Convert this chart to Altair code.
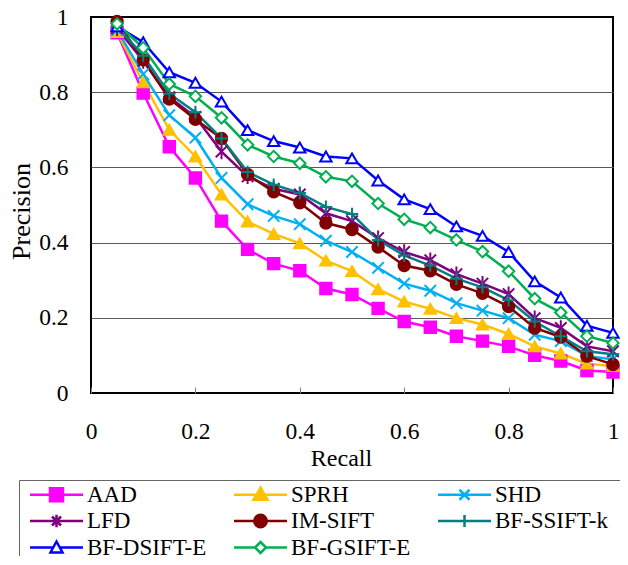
import altair as alt
import pandas as pd

recall = [0.05, 0.10, 0.15, 0.20, 0.25, 0.30, 0.35, 0.40, 0.45, 0.50,
          0.55, 0.60, 0.65, 0.70, 0.75, 0.80, 0.85, 0.90, 0.95, 1.00]

series = ["AAD", "SPRH", "SHD", "LFD", "IM-SIFT", "BF-SSIFT-k", "BF-DSIFT-E", "BF-GSIFT-E"]

aad = [0.958, 0.798, 0.655, 0.572, 0.457, 0.382, 0.344, 0.325, 0.278, 0.262,
       0.225, 0.190, 0.175, 0.151, 0.138, 0.124, 0.100, 0.085, 0.060, 0.056]
sprh = [0.960, 0.826, 0.700, 0.629, 0.528, 0.456, 0.423, 0.398, 0.352, 0.324,
        0.276, 0.243, 0.224, 0.199, 0.182, 0.157, 0.124, 0.105, 0.078, 0.072]
shd = [0.965, 0.848, 0.739, 0.679, 0.572, 0.502, 0.471, 0.449, 0.405, 0.375,
       0.333, 0.291, 0.272, 0.239, 0.219, 0.199, 0.155, 0.138, 0.098, 0.090]
lfd = [0.970, 0.883, 0.787, 0.734, 0.642, 0.576, 0.543, 0.528, 0.478, 0.457,
       0.412, 0.375, 0.353, 0.316, 0.291, 0.263, 0.199, 0.173, 0.124, 0.111]
im_sift = [0.988, 0.886, 0.782, 0.728, 0.677, 0.581, 0.535, 0.506, 0.452, 0.435,
           0.388, 0.339, 0.325, 0.289, 0.265, 0.230, 0.173, 0.149, 0.098, 0.076]
bf_ssift_k = [0.975, 0.897, 0.796, 0.747, 0.677, 0.588, 0.554, 0.532, 0.495, 0.476,
              0.407, 0.366, 0.339, 0.304, 0.281, 0.247, 0.190, 0.151, 0.111, 0.103]
bf_dsift_e = [0.975, 0.933, 0.853, 0.825, 0.775, 0.699, 0.670, 0.653, 0.629, 0.624,
              0.565, 0.515, 0.489, 0.443, 0.418, 0.375, 0.297, 0.254, 0.179, 0.160]
bf_gsift_e = [0.982, 0.918, 0.822, 0.789, 0.732, 0.660, 0.629, 0.611, 0.575, 0.563,
              0.504, 0.462, 0.440, 0.407, 0.376, 0.324, 0.251, 0.214, 0.151, 0.133]

values = [aad, sprh, shd, lfd, im_sift, bf_ssift_k, bf_dsift_e, bf_gsift_e]

colors = ["#FF00FF", "#FFC000", "#00B0F0", "#800080", "#800000", "#008080", "#0000FF", "#00B050"]
fills = ["#FF00FF", "#FFC000", "#00B0F0", "#800080", "#800000", "#008080", "#FFFFFF", "#FFFFFF"]

marker_shapes = [
    "square",
    "triangle-up",
    "M-1,-1L1,1M-1,1L1,-1",
    "M-1,-1L1,1M-1,1L1,-1M0,-1.35V1.35",
    "circle",
    "M-1.1,0H1.1M0,-1.1V1.1",
    "triangle-up",
    "diamond",
]

# legend glyphs: a line with the marker on it (units of 10 px)
pre = "M-3.325,0M15.625,0"
legend_shapes = [
    pre + "M-2.65,0H2.65M-0.65,-0.65H0.65V0.65H-0.65Z",
    pre + "M-2.65,0H2.65M0,-0.7L0.7,0.5H-0.7Z",
    pre + "M-2.65,0H2.65M-0.5,-0.5L0.5,0.5M-0.5,0.5L0.5,-0.5",
    pre + "M-2.65,0H2.65M-0.45,-0.45L0.45,0.45M-0.45,0.45L0.45,-0.45M0,-0.62V0.62",
    pre + "M-2.65,0H2.65M-0.62,0A0.62,0.62 0 1,0 0.62,0A0.62,0.62 0 1,0 -0.62,0Z",
    pre + "M-2.65,0H2.65M0,-0.6V0.6",
    pre + "M-2.65,0H-0.327M0.327,0H2.65M0,-0.6L0.6,0.5H-0.6Z",
    pre + "M-2.65,0H-0.55M0.55,0H2.65M0,-0.55L0.55,0L0,0.55L-0.55,0Z",
]

rows = []
for name, vals in zip(series, values):
    for r, p in zip(recall, vals):
        rows.append({"series": name, "recall": r, "precision": p})
df = pd.DataFrame(rows)

FONT = "Liberation Serif"
ticks = [0, 0.2, 0.4, 0.6, 0.8, 1]

W, H = 522, 376

x_enc = alt.X(
    "recall:Q",
    scale=alt.Scale(domain=[0, 1], nice=False),
    axis=alt.Axis(
        values=ticks, format="~g", title="Recall",
        titleFont=FONT, titleFontSize=24, titleFontWeight="normal", titleColor="black",
        titleX=250, titleY=72, titleBaseline="alphabetic",
        labelFont=FONT, labelFontSize=23.5, labelColor="black",
        labelBaseline="alphabetic", labelPadding=45, labelFlush=False,
        ticks=False, domain=False,
        grid=True, gridColor="#808080", gridWidth=1, gridDash=[6, H - 6], gridDashOffset=6,
    ),
)
y_enc = alt.Y(
    "precision:Q",
    scale=alt.Scale(domain=[0, 1], nice=False),
    axis=alt.Axis(
        values=ticks, format="~g", title="Precision",
        titleFont=FONT, titleFontSize=26, titleFontWeight="normal", titleColor="black",
        titleX=-62, titleY=194, titleBaseline="alphabetic", titleAngle=270,
        labelFont=FONT, labelFontSize=23.5, labelColor="black",
        labelPadding=23, labelFlush=False,
        ticks=False, domain=False,
        grid=True, gridColor="#595959", gridWidth=1,
        gridOpacity={"condition": {"test": "datum.value == 0 || datum.value == 1", "value": 0}, "value": 1},
    ),
)

lines = alt.Chart(df).mark_line(strokeWidth=2.5).encode(
    x=x_enc, y=y_enc,
    stroke=alt.Stroke("series:N", scale=alt.Scale(domain=series, range=colors), legend=None),
)

points = alt.Chart(df).mark_point(size=130, strokeWidth=2, opacity=1).encode(
    x=x_enc, y=y_enc,
    stroke=alt.Stroke("series:N", scale=alt.Scale(domain=series, range=colors), legend=None),
    fill=alt.Fill("series:N", scale=alt.Scale(domain=series, range=fills), legend=None),
    shape=alt.Shape("series:N", scale=alt.Scale(domain=series, range=marker_shapes), legend=None),
)

def leg():
    return alt.Legend(
        title=None, orient="none", legendX=-72, legendY=463, columns=3, direction="horizontal",
        symbolSize=400, symbolStrokeWidth=2.5, symbolFillColor="white", symbolOpacity=1,
        symbolOffset=23,
        labelFont=FONT, labelFontSize=23, labelColor="black", labelOffset=19, labelLimit=300,
        padding=3, rowPadding=2.5, columnPadding=4,
        strokeColor="#666666", fillColor="white",
    )

legend_layer = alt.Chart(df).mark_point(opacity=1, strokeWidth=2.5).encode(
    stroke=alt.Stroke("series:N", scale=alt.Scale(domain=series, range=colors), legend=leg()),
    fill=alt.Fill("series:N", scale=alt.Scale(domain=series, range=fills), legend=leg()),
    shape=alt.Shape("series:N", scale=alt.Scale(domain=series, range=legend_shapes), legend=leg()),
).transform_filter("datum.recall < 0")

chart = alt.layer(lines, points, legend_layer).resolve_scale(
    stroke="independent", fill="independent", shape="independent"
).properties(
    width=W, height=H,
    padding={"left": 83, "top": 9, "right": 7, "bottom": 163},
    autosize=alt.AutoSizeParams(type="none"),
).configure(font=FONT).configure_view(stroke="black", strokeWidth=2)

chart.save("out.html", embed_options={"renderer": "svg", "actions": False})
